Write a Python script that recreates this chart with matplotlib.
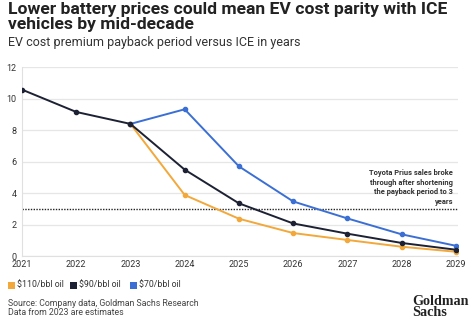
import matplotlib
matplotlib.use("Agg")
import matplotlib.pyplot as plt
from matplotlib.patches import Rectangle

years = [2021, 2022, 2023, 2024, 2025, 2026, 2027, 2028, 2029]
oil110_years = [2023, 2024, 2025, 2026, 2027, 2028, 2029]
oil110 = [8.4, 3.88, 2.37, 1.46, 1.02, 0.59, 0.27]
oil90 = [10.58, 9.16, 8.4, 5.49, 3.35, 2.07, 1.42, 0.83, 0.4]
oil70_years = [2023, 2024, 2025, 2026, 2027, 2028, 2029]
oil70 = [8.4, 9.33, 5.7, 3.47, 2.39, 1.38, 0.65]
yticks = [0, 2, 4, 6, 8, 10, 12]
legend_labels = ["$110/bbl oil", "$90/bbl oil", "$70/bbl oil"]
threshold = 3

c_orange = "#F2A83A"
c_navy = "#1C2133"
c_blue = "#3B6FD4"

plt.rcParams['font.family'] = ['Roboto', 'DejaVu Sans']

fig = plt.figure(figsize=(4.74, 3.31), dpi=100)
ax = fig.add_axes([22/474, 1-256/331, (458-22)/474, (256-67.3)/331])

ax.plot(oil70_years, oil70, color=c_blue, lw=1.4, marker='o', ms=3, zorder=3)
ax.plot(years, oil90, color=c_navy, lw=1.4, marker='o', ms=3, zorder=4)
ax.plot(oil110_years, oil110, color=c_orange, lw=1.4, marker='o', ms=3, zorder=3)
ax.axhline(threshold, color="#222222", lw=1.0, ls=(0, (1, 1)), zorder=2)

ax.set_xlim(2021, 2029.04)
ax.set_ylim(0, 12)
ax.set_yticks(yticks)
ax.set_xticks(years)
ax.grid(axis='y', color="#E6E6E6", lw=0.9)
ax.set_axisbelow(True)
for s in ['top', 'right']:
    ax.spines[s].set_visible(False)
ax.spines['left'].set_color("#E0E0E0")
ax.spines['bottom'].set_color("#E0E0E0")
ax.tick_params(axis='both', length=0, labelsize=6.5, colors="#333333")
ax.tick_params(axis='y', pad=4)
ax.tick_params(axis='x', pad=3)

ax.text(2028.95, 3.2, "Toyota Prius sales broke\nthrough after shortening\nthe payback period to 3\nyears",
        ha='right', va='bottom', fontsize=5.4, fontweight='bold', color="#333333",
        linespacing=1.25, zorder=5)

fig.text(8/474, 1-2/331, "Lower battery prices could mean EV cost parity with ICE\nvehicles by mid-decade",
         ha='left', va='top', fontsize=12.6, fontweight='bold', color="#222222", linespacing=1.0)
fig.text(8/474, 1-36/331, "EV cost premium payback period versus ICE in years",
         ha='left', va='top', fontsize=9, color="#333333")

# legend
for lab, col, x in zip(legend_labels, [c_orange, c_navy, c_blue], [8, 70, 130]):
    fig.patches.append(Rectangle((x/474, 1-288.5/331), 7/474, 7/331, transform=fig.transFigure,
                                 facecolor=col, edgecolor='none'))
    fig.text((x+9)/474, 1-285/331, lab, ha='left', va='center', fontsize=6.3, color="#333333")

fig.text(8/474, 1-299/331, "Source: Company data, Goldman Sachs Research\nData from 2023 are estimates",
         ha='left', va='top', fontsize=6.3, color="#444444", linespacing=1.0)
fig.text(412/474, 1-295/331, "Goldman\nSachs", ha='left', va='top', fontsize=10.2,
         fontweight='bold', family=['Liberation Serif', 'DejaVu Serif'], color="#222222", linespacing=0.85)

fig.savefig("out.png", dpi=100, facecolor='white')
